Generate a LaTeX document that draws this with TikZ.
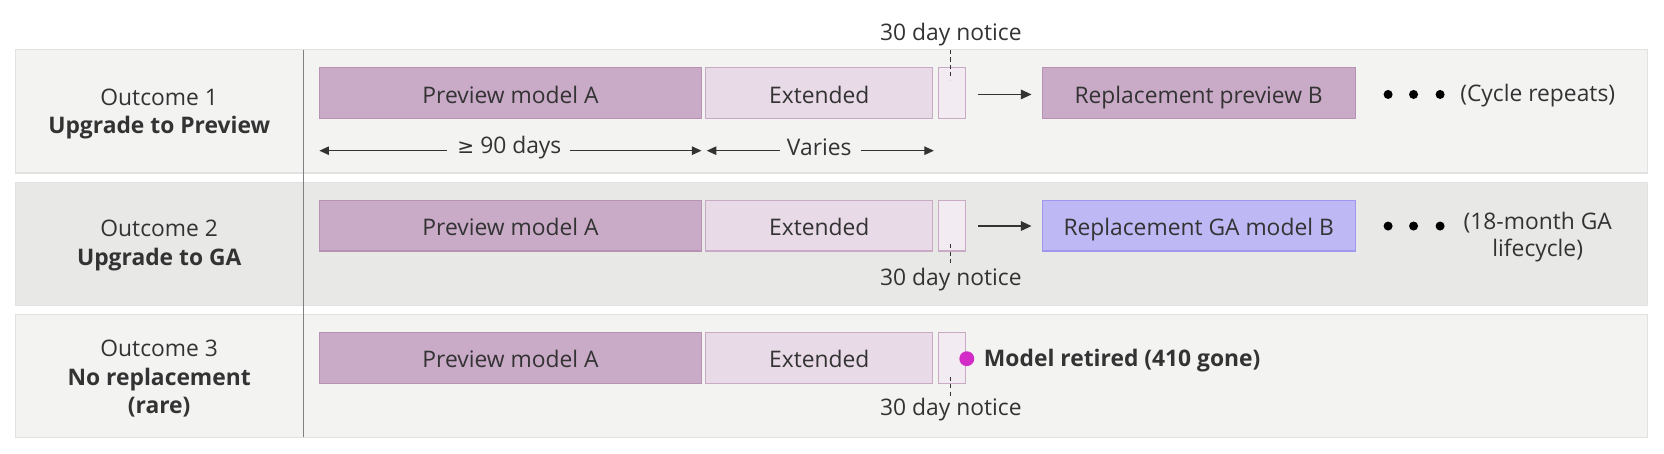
\documentclass[tikz,border=0pt]{standalone}
\usepackage{fontspec}
\setmainfont{Open Sans}
\newfontfamily\symfont{DejaVu Sans}
\usetikzlibrary{arrows.meta}
\definecolor{bandA}{HTML}{F3F3F2}
\definecolor{bandB}{HTML}{E8E8E7}
\definecolor{bandline}{HTML}{E2E2E2}
\definecolor{prevfill}{HTML}{C9AAC7}
\definecolor{prevdraw}{HTML}{B792B3}
\definecolor{extfill}{HTML}{E8DAE6}
\definecolor{extdraw}{HTML}{C8AAC5}
\definecolor{notfill}{HTML}{F3EBF2}
\definecolor{gafill}{HTML}{BEB8F4}
\definecolor{gadraw}{HTML}{9F98EE}
\definecolor{txt}{HTML}{333333}
\definecolor{retired}{HTML}{D22BC8}
\definecolor{sepline}{HTML}{808080}
\begin{document}
\begin{tikzpicture}[x=1pt,y=-1pt,
  font=\fontsize{21.5}{27}\selectfont, text=txt,
  band/.style={rectangle, draw=bandline, line width=1pt, minimum width=1537pt, minimum height=116pt, inner sep=0pt},
  bar/.style={rectangle, inner sep=0pt, minimum height=48pt, line width=1pt, text height=19pt, text depth=0pt},
  prev/.style={bar, fill=prevfill, draw=prevdraw, minimum width=360pt},
  ext/.style={bar, fill=extfill, draw=extdraw, minimum width=214pt},
  notice/.style={bar, fill=notfill, draw=extdraw, minimum width=26pt},
  repl/.style={bar, fill=prevfill, draw=prevdraw, minimum width=295pt},
  ga/.style={bar, fill=gafill, draw=gadraw, minimum width=295pt},
  flow/.style={draw=txt, line width=1.2pt, -{Triangle[length=10pt,width=9pt]}},
  dim/.style={draw=txt, line width=1pt, -{Triangle[length=9pt,width=8pt]}},
  noticeline/.style={draw=txt, line width=1pt, dash pattern=on 4pt off 3pt},
  dotstyle/.style={circle, fill=black, minimum size=8.5pt, inner sep=0pt},
  lab/.style={align=center, inner sep=0pt}
]
\useasboundingbox (0,0) rectangle (1568,427);
% bands
\node[band, fill=bandA] (band1) at (783.5,105) {};
\node[band, fill=bandB] (band2) at (783.5,230) {};
\node[band, fill=bandA] (band3) at (783.5,354) {};
% separator
\coordinate (septop) at (286,47);
\coordinate (sepbot) at (286,412);
\draw[sepline, line width=1pt] (septop) -- (sepbot);
% row labels
\node[lab] (lab1) at (150,107.5) {Outcome 1\\\textbf{Upgrade to Preview}};
\node[lab] (lab2) at (150,231.5) {Outcome 2\\\textbf{Upgrade to GA}};
\node[lab] (lab3) at (150,357) {Outcome 3\\\textbf{No replacement}\\\textbf{(rare)}};
% row 1
\node[prev] (p1) at (481,88) {Preview model A};
\node[ext] (e1) at (772,88) {Extended};
\node[notice] (n1) at (897,88) {};
\node[repl] (r1) at (1129.5,88) {Replacement preview B};
\coordinate (f1s) at (922,89);
\coordinate (f1e) at (972,89);
\draw[flow] (f1s) -- (f1e);
\node (t1) at (896,33) {30 day notice};
\coordinate (d1a) at (896,47);
\coordinate (d1b) at (896,75);
\draw[noticeline] (d1a) -- (d1b);
\node[dotstyle] (k1a) at (1308,89) {};
\node[dotstyle] (k1b) at (1332,89) {};
\node[dotstyle] (k1c) at (1357,89) {};
\node[lab] (c1) at (1449,90) {(Cycle repeats)};
% dimension row 1
\node[inner sep=0pt] (d90) at (480,139) {{\symfont\fontsize{19}{20}\selectfont ≥} 90 days};
\coordinate (d90l) at (301,142);
\coordinate (d90la) at (421,142);
\coordinate (d90r) at (661,142);
\coordinate (d90ra) at (537,142);
\draw[dim] (d90la) -- (d90l);
\draw[dim] (d90ra) -- (d90r);
\node[inner sep=0pt] (dv) at (772,139) {Varies};
\coordinate (dvl) at (666,142);
\coordinate (dvla) at (735,142);
\coordinate (dvr) at (880,142);
\coordinate (dvra) at (811,142);
\draw[dim] (dvla) -- (dvl);
\draw[dim] (dvra) -- (dvr);
% row 2
\node[prev] (p2) at (481,212.5) {Preview model A};
\node[ext] (e2) at (772,212.5) {Extended};
\node[notice] (n2) at (897,212.5) {};
\node[ga] (r2) at (1129.5,212.5) {Replacement GA model B};
\coordinate (f2s) at (922,213);
\coordinate (f2e) at (972,213);
\draw[flow] (f2s) -- (f2e);
\node (t2) at (896,263) {30 day notice};
\coordinate (d2a) at (896,230);
\coordinate (d2b) at (896,250);
\draw[noticeline] (d2a) -- (d2b);
\node[dotstyle] (k2a) at (1308,213) {};
\node[dotstyle] (k2b) at (1332,213) {};
\node[dotstyle] (k2c) at (1357,213) {};
\node[lab, font=\fontsize{21.5}{26}\selectfont] (c2) at (1449,223.5) {(18-month GA\\lifecycle)};
% row 3
\node[prev] (p3) at (481,337) {Preview model A};
\node[ext] (e3) at (772,337) {Extended};
\node[notice] (n3) at (897,337) {};
\node[circle, fill=retired, minimum size=14pt, inner sep=0pt] (gone) at (911,338) {};
\node[anchor=west, inner sep=0pt] (gonet) at (927,340) {\textbf{Model retired (410 gone)}};
\node (t3) at (896,386) {30 day notice};
\coordinate (d3a) at (896,355);
\coordinate (d3b) at (896,373);
\draw[noticeline] (d3a) -- (d3b);
\end{tikzpicture}
\end{document}
